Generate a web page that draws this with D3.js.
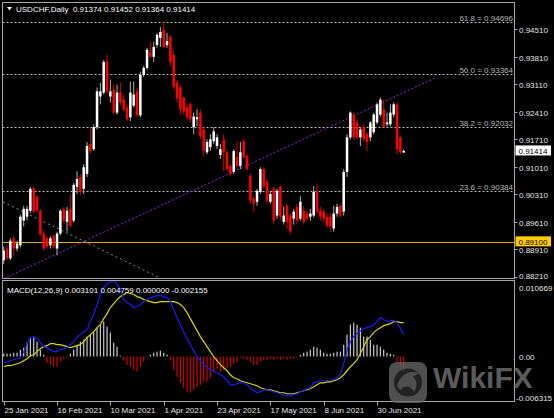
<!DOCTYPE html>
<html><head><meta charset="utf-8">
<script src="https://cdn.jsdelivr.net/npm/d3@7"></script>
<style>html,body{margin:0;padding:0;background:#000;}svg{display:block;}</style>
</head><body>
<svg id="c" width="554" height="418"></svg>
<script>
// ---------------- DATA ----------------
const symbolTitle = "USDCHF,Daily";
const lastQuote = ["0.91374", "0.91452", "0.91364", "0.91414"];

const openP = [
0.8863,0.8893,0.8868,0.8919,0.8893,0.8901,0.8964,0.8974,0.8989,0.9047,
0.9025,0.8989,0.8931,0.8919,0.8901,0.8924,0.8893,0.8931,0.8994,0.8961,
0.8994,0.8964,0.9050,0.9075,0.9045,0.9083,0.9159,0.9146,0.9202,0.9280,
0.9290,0.9368,0.9280,0.9298,0.9239,0.9290,0.9272,0.9252,0.9227,0.9257,
0.9293,0.9232,0.9335,0.9353,0.9394,0.9381,0.9411,0.9429,0.9449,0.9411,
0.9432,0.9386,0.9315,0.9303,0.9277,0.9252,0.9260,0.9202,0.9222,0.9239,
0.9196,0.9138,0.9151,0.9166,0.9154,0.9131,0.9171,0.9138,0.9103,0.9088,
0.9126,0.9103,0.9166,0.9128,0.9078,0.9020,0.9012,0.9037,0.9095,0.9063,
0.9012,0.9045,0.8977,0.9050,0.8961,0.9002,0.8977,0.8969,0.8999,0.8969,
0.8989,0.8982,0.8974,0.8977,0.9037,0.8989,0.8987,0.8974,0.8974,0.8944,
0.8982,0.9002,0.8987,0.9088,0.9176,0.9234,0.9214,0.9176,0.9202,0.9184,
0.9176,0.9189,0.9214,0.9234,0.9247,0.9209,0.9209,0.9234,0.9260,0.9176,
0.91374];
const highP = [
0.8898,0.8901,0.8919,0.8924,0.8913,0.8979,0.9002,0.9002,0.9050,0.9050,
0.9027,0.8994,0.8939,0.8924,0.8924,0.8929,0.8936,0.8994,0.8999,0.8999,
0.9030,0.9060,0.9090,0.9083,0.9108,0.9164,0.9202,0.9209,0.9303,0.9315,
0.9373,0.9386,0.9323,0.9310,0.9310,0.9315,0.9285,0.9260,0.9318,0.9318,
0.9303,0.9343,0.9358,0.9404,0.9419,0.9419,0.9442,0.9457,0.9472,0.9442,
0.9437,0.9399,0.9323,0.9308,0.9280,0.9262,0.9265,0.9239,0.9247,0.9247,
0.9202,0.9171,0.9184,0.9202,0.9184,0.9159,0.9184,0.9146,0.9108,0.9146,
0.9166,0.9164,0.9171,0.9133,0.9083,0.9025,0.9045,0.9100,0.9100,0.9070,
0.9040,0.9050,0.9045,0.9055,0.8999,0.9007,0.8982,0.8994,0.9007,0.9027,
0.9002,0.8989,0.8994,0.9052,0.9058,0.8999,0.8994,0.8982,0.8982,0.9002,
0.9007,0.9007,0.9095,0.9184,0.9242,0.9239,0.9222,0.9202,0.9209,0.9189,
0.9217,0.9239,0.9265,0.9277,0.9272,0.9239,0.9260,0.9265,0.9265,0.9179,
0.91452];
const lowP = [
0.8853,0.8863,0.8863,0.8873,0.8886,0.8896,0.8949,0.8964,0.8984,0.8982,
0.8984,0.8924,0.8888,0.8893,0.8893,0.8893,0.8876,0.8926,0.8959,0.8936,
0.8946,0.8959,0.9032,0.9030,0.9032,0.9075,0.9133,0.9141,0.9196,0.9260,
0.9285,0.9285,0.9265,0.9234,0.9234,0.9257,0.9242,0.9217,0.9217,0.9252,
0.9227,0.9227,0.9330,0.9348,0.9378,0.9368,0.9404,0.9406,0.9404,0.9404,
0.9358,0.9298,0.9265,0.9234,0.9234,0.9222,0.9212,0.9184,0.9204,0.9171,
0.9128,0.9133,0.9141,0.9159,0.9146,0.9121,0.9090,0.9090,0.9078,0.9083,
0.9100,0.9095,0.9121,0.9090,0.9007,0.8987,0.9002,0.9032,0.9045,0.9007,
0.9007,0.8956,0.8969,0.8964,0.8954,0.8944,0.8931,0.8954,0.8956,0.8964,
0.8954,0.8964,0.8964,0.8972,0.8982,0.8964,0.8959,0.8944,0.8936,0.8936,
0.8974,0.8972,0.8977,0.9075,0.9171,0.9171,0.9171,0.9154,0.9166,0.9141,
0.9166,0.9184,0.9209,0.9229,0.9202,0.9204,0.9204,0.9227,0.9133,0.9133,
0.91364];
const closeP = [
0.8888,0.8868,0.8913,0.8893,0.8906,0.8974,0.8994,0.8994,0.9045,0.8987,
0.8989,0.8929,0.8893,0.8898,0.8919,0.8898,0.8931,0.8989,0.8964,0.8989,
0.8951,0.9055,0.9070,0.9037,0.9100,0.9154,0.9141,0.9202,0.9293,0.9293,
0.9368,0.9293,0.9293,0.9239,0.9290,0.9265,0.9247,0.9222,0.9290,0.9285,
0.9232,0.9335,0.9353,0.9399,0.9381,0.9406,0.9437,0.9444,0.9406,0.9421,
0.9368,0.9305,0.9275,0.9247,0.9242,0.9227,0.9222,0.9229,0.9227,0.9179,
0.9141,0.9164,0.9171,0.9191,0.9176,0.9146,0.9138,0.9095,0.9083,0.9141,
0.9103,0.9138,0.9126,0.9095,0.9015,0.9007,0.9040,0.9095,0.9052,0.9015,
0.9032,0.8964,0.9040,0.8974,0.8977,0.8961,0.8936,0.8987,0.8964,0.9012,
0.8961,0.8969,0.8982,0.9037,0.8987,0.8974,0.8969,0.8951,0.8949,0.8982,
0.8999,0.8977,0.9088,0.9176,0.9239,0.9176,0.9176,0.9196,0.9171,0.9164,
0.9214,0.9234,0.9260,0.9272,0.9204,0.9214,0.9239,0.9260,0.9146,0.9138,
0.91414];

const macdMain = [
-0.00087,-0.00073,-0.00059,-0.00045,-0.00031,-0.00017,0.00068,0.00180,0.00265,0.00279,
0.00250,0.00194,0.00138,0.00124,0.00096,0.00068,0.00068,0.00096,0.00110,0.00124,
0.00166,0.00208,0.00265,0.00307,0.00349,0.00377,0.00490,0.00588,0.00729,0.00870,
0.00968,0.01020,0.01050,0.010669,0.01020,0.00940,0.00799,0.00757,0.00729,0.00687,
0.00701,0.00729,0.00771,0.00799,0.00827,0.00841,0.00855,0.00855,0.00841,0.00827,
0.00771,0.00658,0.00546,0.00447,0.00349,0.00250,0.00166,0.00082,-0.00003,-0.00059,
-0.00115,-0.00158,-0.00186,-0.00214,-0.00228,-0.00256,-0.00284,-0.00340,-0.00397,-0.00397,
-0.00383,-0.00369,-0.00369,-0.00397,-0.00439,-0.00481,-0.00509,-0.00495,-0.00467,-0.00467,
-0.00481,-0.00495,-0.00509,-0.00523,-0.00537,-0.00552,-0.00552,-0.00537,-0.00523,-0.00495,
-0.00481,-0.00453,-0.00439,-0.00369,-0.00355,-0.00340,-0.00340,-0.00340,-0.00326,-0.00326,
-0.00298,-0.00256,-0.00101,0.00096,0.00208,0.00279,0.00321,0.00363,0.00391,0.00405,
0.00419,0.00447,0.00490,0.00546,0.00518,0.00490,0.00504,0.00504,0.00476,0.00391,
0.003101];
const macdSignal = [
-0.00144,-0.00129,-0.00129,-0.00115,-0.00101,-0.00087,-0.00059,-0.00031,0.00011,0.00025,
0.00068,0.00110,0.00138,0.00152,0.00180,0.00180,0.00166,0.00166,0.00152,0.00138,
0.00124,0.00138,0.00152,0.00166,0.00208,0.00265,0.00307,0.00349,0.00405,0.00447,
0.00532,0.00602,0.00687,0.00743,0.00799,0.00841,0.00870,0.00898,0.00884,0.00870,
0.00841,0.00827,0.00799,0.00785,0.00771,0.00757,0.00757,0.00771,0.00771,0.00771,
0.00771,0.00771,0.00757,0.00729,0.00687,0.00616,0.00532,0.00447,0.00363,0.00279,
0.00208,0.00138,0.00068,-0.00003,-0.00059,-0.00115,-0.00158,-0.00200,-0.00256,-0.00298,
-0.00312,-0.00340,-0.00355,-0.00369,-0.00383,-0.00397,-0.00411,-0.00439,-0.00453,-0.00467,
-0.00467,-0.00481,-0.00495,-0.00509,-0.00509,-0.00523,-0.00523,-0.00523,-0.00509,-0.00495,
-0.00481,-0.00467,-0.00453,-0.00425,-0.00397,-0.00369,-0.00369,-0.00355,-0.00355,-0.00340,
-0.00326,-0.00298,-0.00256,-0.00200,-0.00144,-0.00101,-0.00045,0.00039,0.00138,0.00236,
0.00279,0.00335,0.00377,0.00405,0.00433,0.00447,0.00461,0.00490,0.00490,0.00476,
0.004759];
const macdHist = [
0.00039,0.00039,0.00039,0.00053,0.00053,0.00096,0.00124,0.00194,0.00265,0.00265,
0.00208,0.00096,0.00025,-0.00087,-0.00115,-0.00144,-0.00144,-0.00073,-0.00031,-0.00017,
0.00039,0.00096,0.00166,0.00208,0.00236,0.00279,0.00307,0.00349,0.00405,0.00447,
0.00490,0.00419,0.00335,0.00194,0.00138,0.00011,-0.00059,-0.00115,-0.00144,-0.00186,
-0.00214,-0.00144,-0.00073,-0.00003,0.00025,0.00053,0.00068,0.00082,0.00053,0.00025,
-0.00059,-0.00186,-0.00284,-0.00369,-0.00439,-0.00495,-0.00509,-0.00467,-0.00425,-0.00397,
-0.00355,-0.00355,-0.00298,-0.00214,-0.00172,-0.00214,-0.00186,-0.00158,-0.00144,-0.00101,
-0.00073,-0.00017,-0.00031,-0.00045,-0.00073,-0.00115,-0.00115,-0.00073,-0.00045,-0.00045,
-0.00031,-0.00045,-0.00031,-0.00045,-0.00031,-0.00045,-0.00031,-0.00031,-0.00017,0.00025,
0.00053,0.00068,0.00096,0.00138,0.00124,0.00096,0.00053,0.00039,0.00039,0.00053,
0.00068,0.00068,0.00166,0.00307,0.00447,0.00476,0.00447,0.00405,0.00279,0.00279,
0.00236,0.00166,0.00166,0.00138,0.00096,0.00053,0.00039,0.00025,-0.00087,-0.00144,
-0.002155];

const macdTitle = "MACD(12,26,9)";
const macdReadout = ["0.003101", "0.004759", "0.000000", "-0.002155"];
const macdScaleLabels = ["0.010669", "0.00", "-0.006315"];
const macdScaleValues = [0.010669, 0.0, -0.006315];

const priceTicks = [0.94510, 0.93810, 0.93110, 0.92410, 0.91710, 0.91010, 0.90310, 0.89610, 0.88910, 0.88210];
const dateTickLabels = ["25 Jan 2021", "16 Feb 2021", "10 Mar 2021", "1 Apr 2021", "23 Apr 2021", "17 May 2021", "8 Jun 2021", "30 Jun 2021"];

const fibLevels = ["61.8", "50.0", "38.2", "23.6"];
const fibPrices = [0.94696, 0.93364, 0.92032, 0.90384];
const supportLevel = 0.89100;
const lastPrice = 0.91414;
// trend lines: [bar index, price]
const trendRising = [[0.4, 0.88179], [130, 0.93296]];
const trendFalling = [[-0.2, 0.90114], [46.9, 0.88179]];

// ---------------- DRAW ----------------
const svg = d3.select("#c");
const FONT = "'Liberation Sans', Arial, sans-serif";
const L = 2.5, R = 514.5, T = 2.5, B = 278.5, MT = 280.5, MB = 401.5;

svg.append("rect").attr("width", 554).attr("height", 418).attr("fill", "#000");

// dates (weekday trading days)
const dates = [];
{ let d = new Date(2021, 0, 25); while (dates.length < openP.length) { const wd = d.getDay(); if (wd !== 0 && wd !== 6) dates.push(new Date(d)); d.setDate(d.getDate() + 1); } }
const fmt = d3.timeFormat("%-d %b %Y");

const x = d3.scaleLinear().domain([0, openP.length - 1]).range([3.7, 403.7]);
const y = d3.scaleLinear().domain([0.88167, 0.95205]).range([278.5, 2]);
const ym = d3.scaleLinear().domain([macdScaleValues[2], macdScaleValues[0]]).range([MB, MT]);

const defs = svg.append("defs");
defs.append("clipPath").attr("id", "clipMain").append("rect").attr("x", L).attr("y", T).attr("width", R - L).attr("height", B - T);
defs.append("clipPath").attr("id", "clipMacd").append("rect").attr("x", L).attr("y", MT).attr("width", R - L).attr("height", MB - MT);

const gMain = svg.append("g").attr("clip-path", "url(#clipMain)");

// fib lines
fibPrices.forEach((p, k) => {
  const yy = Math.round(y(p)) + 0.5;
  gMain.append("line").attr("x1", L).attr("x2", R).attr("y1", yy).attr("y2", yy)
    .attr("stroke", "#bdbdbd").attr("stroke-dasharray", "2,2");
  svg.append("text").attr("x", 513).attr("y", yy - 2).attr("text-anchor", "end")
    .attr("font-family", FONT).attr("font-size", 8).attr("fill", "#b8b8b8")
    .text(fibLevels[k] + " = " + p.toFixed(5));
});

// support line
{ const yy = Math.round(y(supportLevel)) + 0.5;
  gMain.append("line").attr("x1", L).attr("x2", R).attr("y1", yy).attr("y2", yy).attr("stroke", "#e0b000").attr("stroke-width", 1.2); }

// trend lines
gMain.append("line").attr("x1", x(trendFalling[0][0])).attr("y1", y(trendFalling[0][1]))
  .attr("x2", x(trendFalling[1][0])).attr("y2", y(trendFalling[1][1]))
  .attr("stroke", "#8a8a8a").attr("stroke-dasharray", "2,3");
gMain.append("line").attr("x1", x(trendRising[0][0])).attr("y1", y(trendRising[0][1]))
  .attr("x2", x(trendRising[1][0])).attr("y2", y(trendRising[1][1]))
  .attr("stroke", "#9a1ee0").attr("stroke-dasharray", "2,2");

// candles
const bars = openP.map((o, i) => ({ i, o, h: highP[i], l: lowP[i], c: closeP[i] }));
gMain.selectAll(".wick").data(bars).join("rect").attr("class", "wick")
  .attr("x", d => x(d.i) - 0.5).attr("width", 1)
  .attr("y", d => y(d.h)).attr("height", d => Math.max(1, y(d.l) - y(d.h)))
  .attr("fill", d => d.c >= d.o ? "#b0b0b0" : "#d80000");
gMain.selectAll(".body").data(bars).join("rect").attr("class", "body")
  .attr("x", d => x(d.i) - 1.25).attr("width", 2.5)
  .attr("y", d => y(Math.max(d.o, d.c))).attr("height", d => Math.max(1, Math.abs(y(d.o) - y(d.c))))
  .attr("fill", d => d.c >= d.o ? "#ffffff" : "#ff0000");

// MACD panel
const gM = svg.append("g").attr("clip-path", "url(#clipMacd)");
gM.selectAll(".hist").data(macdHist).join("rect").attr("class", "hist")
  .attr("x", (d, i) => x(i) - 0.6).attr("width", 1.2)
  .attr("y", d => ym(Math.max(0, d))).attr("height", d => Math.max(0.8, Math.abs(ym(d) - ym(0))))
  .attr("fill", d => d >= 0 ? "#c8c8c8" : "#d40000");
const ln = d3.line().x((d, i) => x(i)).y(d => ym(d));
gM.append("path").attr("d", ln(macdSignal)).attr("fill", "none").attr("stroke", "#d6d600").attr("stroke-width", 1.2);
gM.append("path").attr("d", ln(macdMain)).attr("fill", "none").attr("stroke", "#1a1aff").attr("stroke-width", 1.2);

// frames
const frameCol = "#a8a8a8";
svg.append("rect").attr("x", L).attr("y", T).attr("width", R - L).attr("height", B - T).attr("fill", "none").attr("stroke", frameCol);
svg.append("rect").attr("x", L).attr("y", MT).attr("width", R - L).attr("height", MB - MT).attr("fill", "none").attr("stroke", frameCol);

// price axis
priceTicks.forEach(p => {
  const yy = Math.round(y(p)) + 0.5;
  svg.append("line").attr("x1", R).attr("x2", R + 3).attr("y1", yy).attr("y2", yy).attr("stroke", frameCol);
  svg.append("text").attr("x", 519).attr("y", Math.min(yy, 276) + 3).attr("font-family", FONT).attr("font-size", 8)
    .attr("fill", "#e6e6e6").text(p.toFixed(5));
});
// support label box
{ const yy = y(supportLevel);
  svg.append("rect").attr("x", 515.5).attr("y", yy - 5.5).attr("width", 35.5).attr("height", 10).attr("fill", "#ffcc00");
  svg.append("text").attr("x", 518.5).attr("y", yy + 3).attr("font-family", FONT).attr("font-size", 8).attr("fill", "#000").text(supportLevel.toFixed(5)); }
// last price box
{ const yy = y(lastPrice);
  svg.append("rect").attr("x", 515.5).attr("y", yy - 5.5).attr("width", 35.5).attr("height", 10).attr("fill", "#ffffff");
  svg.append("text").attr("x", 518.5).attr("y", yy + 3).attr("font-family", FONT).attr("font-size", 8).attr("fill", "#000").text(lastPrice.toFixed(5)); }

// MACD axis labels
macdScaleLabels.forEach((t, k) => {
  const v = macdScaleValues[k];
  const yy = k === 1 ? ym(v) + 3 : (k === 0 ? ym(v) + 10 : ym(v) - 0.5);
  svg.append("text").attr("x", k === 2 ? 516 : 519).attr("y", yy).attr("font-family", FONT).attr("font-size", 8)
    .attr("fill", "#e6e6e6").text(t);
});

// date axis
dates.forEach((d, i) => {
  const s = fmt(d);
  if (dateTickLabels.includes(s)) {
    const xx = Math.round(x(i)) + 0.5;
    svg.append("line").attr("x1", xx).attr("x2", xx).attr("y1", MB).attr("y2", MB + 4).attr("stroke", frameCol);
    svg.append("text").attr("x", xx).attr("y", 413).attr("font-family", FONT).attr("font-size", 8).attr("fill", "#e6e6e6").text(s);
  }
});

// titles
svg.append("path").attr("d", "M7,7 L12,7 L9.5,10.5 Z").attr("fill", "#fff");
svg.append("text").attr("x", 16).attr("y", 12).attr("font-family", FONT).attr("font-size", 8).attr("fill", "#fff")
  .attr("xml:space", "preserve").text(symbolTitle + "  " + lastQuote.join(" "));
svg.append("text").attr("x", 7).attr("y", 293).attr("font-family", FONT).attr("font-size", 8).attr("fill", "#fff")
  .text(macdTitle + " " + macdReadout.join(" "));

// watermark
const wm = svg.append("g").attr("opacity", 0.75);
wm.append("rect").attr("x", 389).attr("y", 362).attr("width", 38).attr("height", 41).attr("rx", 8).attr("fill", "#6a6a6a");
wm.append("circle").attr("cx", 408).attr("cy", 382.5).attr("r", 14).attr("fill", "#2e2e2e");
wm.append("path").attr("d", "M397,386 C400,374 410,370 419,373 L413,377 C417,380 418,386 414,392 C411,386 406,384 400,390 Z").attr("fill", "#6a6a6a");
wm.append("text").attr("x", 433).attr("y", 388).attr("font-family", FONT).attr("font-weight", "bold")
  .attr("font-size", 30).attr("fill", "#7a7a7a").text("WikiFX");
</script>
</body></html>
